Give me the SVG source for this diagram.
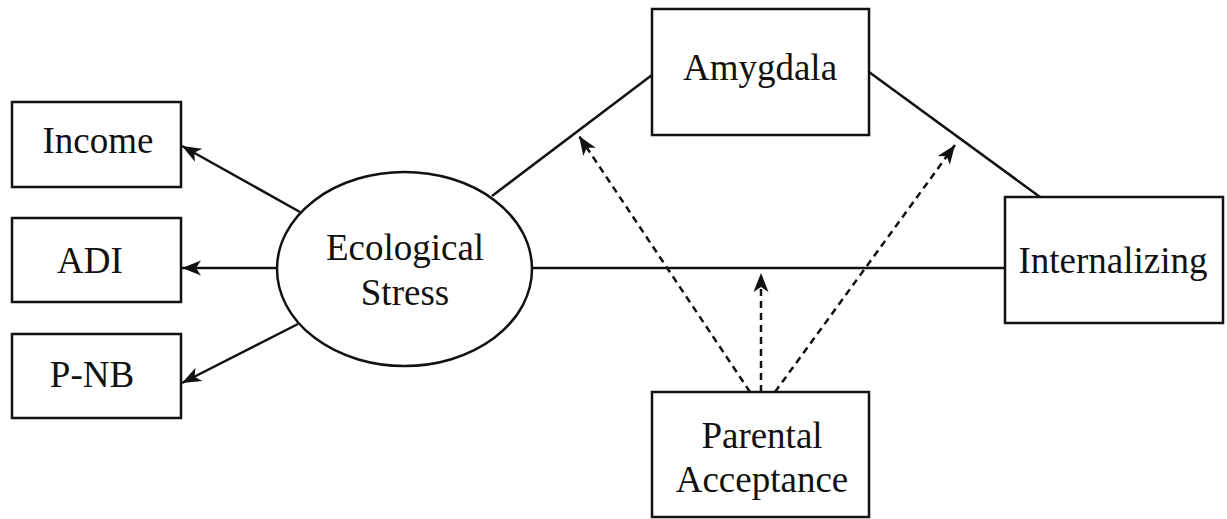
<svg xmlns="http://www.w3.org/2000/svg" width="1227" height="519" viewBox="0 0 1227 519">
<style>
.box{fill:#fff;stroke:#111;stroke-width:2.5}
.t{font-family:"Liberation Serif","Times New Roman",serif;font-size:37px;fill:#111;text-anchor:middle}
.ln{fill:none;stroke:#111;stroke-width:2.5}
.ds{fill:none;stroke:#111;stroke-width:2.5;stroke-dasharray:7 5}
</style>
<defs>
<marker id="ah" markerUnits="userSpaceOnUse" markerWidth="20" markerHeight="18" viewBox="0 0 20 18" refX="19" refY="9" orient="auto">
<path d="M0,1.5 L19,9 L0,16.5 L5,9 Z" fill="#111"/>
</marker>
</defs>
<rect width="1227" height="519" fill="#fff"/>
<g id="connectors">
<line class="ln" x1="300" y1="212" x2="182" y2="146" marker-end="url(#ah)"/>
<line class="ln" x1="277" y1="268" x2="182" y2="268" marker-end="url(#ah)"/>
<line class="ln" x1="298" y1="324" x2="182" y2="383" marker-end="url(#ah)"/>
<line class="ln" x1="492" y1="196" x2="652" y2="75"/>
<line class="ln" x1="869" y1="72" x2="1040" y2="197"/>
<line class="ln" x1="532" y1="268" x2="1005" y2="268"/>
<line class="ds" x1="750" y1="392" x2="579" y2="136" marker-end="url(#ah)"/>
<line class="ds" x1="761" y1="392" x2="761" y2="273" marker-end="url(#ah)"/>
<line class="ds" x1="775" y1="392" x2="955" y2="145" marker-end="url(#ah)"/>
</g>
<g id="income"><rect class="box" x="12" y="102" width="169" height="85"/><text class="t" x="98" y="153">Income</text></g>
<g id="adi"><rect class="box" x="12" y="218" width="169" height="84"/><text class="t" x="90" y="273">ADI</text></g>
<g id="pnb"><rect class="box" x="12" y="334" width="169" height="84"/><text class="t" x="92" y="387">P-NB</text></g>
<g id="ecological"><ellipse class="box" cx="404.5" cy="269" rx="127.5" ry="97"/><text class="t" x="405" y="260">Ecological</text><text class="t" x="405" y="305">Stress</text></g>
<g id="amygdala"><rect class="box" x="652" y="9" width="217" height="126"/><text class="t" x="760" y="80">Amygdala</text></g>
<g id="internalizing"><rect class="box" x="1005" y="197" width="218" height="126"/><text class="t" x="1113" y="273">Internalizing</text></g>
<g id="parental"><rect class="box" x="652" y="392" width="217" height="125"/><text class="t" x="762" y="448">Parental</text><text class="t" x="762" y="492">Acceptance</text></g>
</svg>
